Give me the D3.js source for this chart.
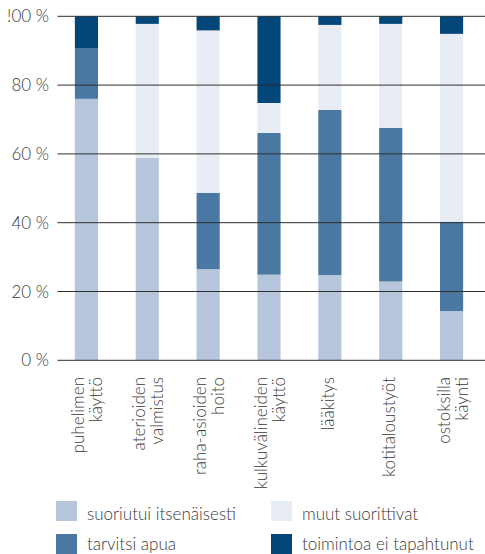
<!DOCTYPE html>
<html><head><meta charset="utf-8">
<script src="https://cdn.jsdelivr.net/npm/d3@7"></script>
<style>
body{margin:0;background:#fff;}
text{font-family:Lato,"Open Sans",sans-serif;font-weight:300;fill:#3a3a3a;}
</style></head>
<body>
<svg id="c" width="485" height="554"></svg>
<script>
const categories = [["puhelimen","käyttö"],["aterioiden","valmistus"],["raha-asioiden","hoito"],["kulkuvälineiden","käyttö"],["lääkitys"],["kotitaloustyöt"],["ostoksilla","käynti"]];
const seriesNames = ["suoriutui itsenäisesti","tarvitsi apua","muut suorittivat","toimintoa ei tapahtunut"];
const suoriutui = [76, 58.8, 26.5, 24.9, 24.8, 22.9, 14.3];
const tarvitsi  = [14.6, 0, 22.2, 41.2, 48.0, 44.7, 26.0];
const muut      = [0, 39.0, 47.2, 8.7, 24.7, 30.2, 54.6];
const eiTapahtunut = [9.4, 2.2, 4.1, 25.2, 2.5, 2.2, 5.1];
const yTicks = [0,20,40,60,80,100];
const yTickLabels = ["0 %","20 %","40 %","60 %","80 %","!00 %"];
const colors = ["#b6c5dc","#4b78a3","#e8edf5","#03467a"];

const svg = d3.select("#c");
const x = d3.scaleBand().domain(d3.range(categories.length)).range([56,482]).paddingInner(0.62).paddingOuter(0.31);
const y = d3.scaleLinear().domain([0,100]).range([360.3,16.3]);

const rows = categories.map((c,i)=>({i, s0:suoriutui[i], s1:tarvitsi[i], s2:muut[i], s3:eiTapahtunut[i]}));
const stack = d3.stack().keys(["s0","s1","s2","s3"])(rows);

svg.append("g").selectAll("g").data(stack).join("g")
  .attr("fill",(d,k)=>colors[k])
  .selectAll("rect").data(d=>d).join("rect")
  .attr("x",d=>x(d.data.i)).attr("width",x.bandwidth())
  .attr("y",d=>y(d[1])).attr("height",d=>Math.max(0,y(d[0])-y(d[1])));

// grid lines over bars
svg.append("g").selectAll("line").data(yTicks).join("line")
  .attr("x1",57.5).attr("x2",485)
  .attr("y1",d=>y(d)).attr("y2",d=>y(d))
  .attr("stroke","#2e2e2e").attr("stroke-width",1);

svg.append("g").selectAll("text").data(yTicks).join("text")
  .attr("x",49).attr("y",d=>y(d)+6)
  .attr("text-anchor","end").style("font-size","17px")
  .text((d,i)=>yTickLabels[i]);

// x labels
const xl = svg.append("g").selectAll("g").data(categories).join("g")
  .attr("transform",(d,i)=>`translate(${x(i)+x.bandwidth()/2},377) rotate(-90)`);
xl.each(function(d){
  const t = d3.select(this).append("text").attr("text-anchor","end").style("font-size","17px");
  const start = d.length===2 ? -2 : 4;
  d.forEach((ln,j)=>t.append("tspan").attr("x",0).attr("y",start+j*18).text(ln));
});

// legend
const legendPos = [[56,501],[56,534],[271,501],[271,534]];
const legOrder = [0,1,2,3];
const lg = svg.append("g").selectAll("g").data(legOrder).join("g")
  .attr("transform",k=>`translate(${legendPos[k][0]},${legendPos[k][1]})`);
lg.append("rect").attr("width",21).attr("height",20).attr("fill",k=>colors[k]);
lg.append("text").attr("x",31).attr("y",k=>k%2===1?16:19).style("font-size","17px").text(k=>seriesNames[k]);
</script>
</body></html>
